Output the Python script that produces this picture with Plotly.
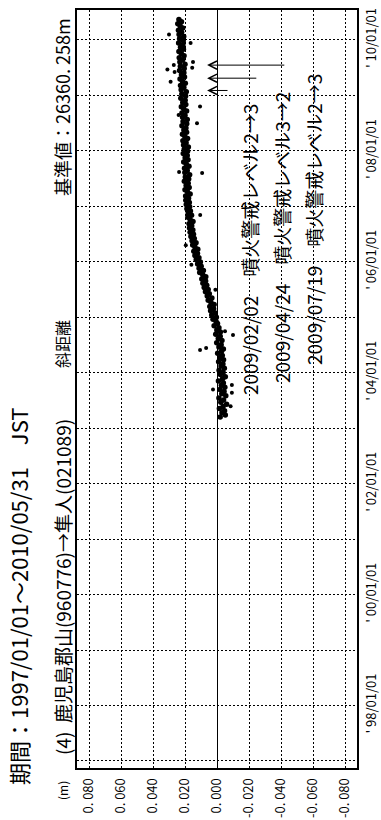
import pandas as pd
import plotly.graph_objects as go

# Slant distance change (m), sampled every 14 days from 2003-03-15
start_date = "2003-03-15"
distance_change = [
    -0.0020, -0.0052, -0.0031, -0.0047, -0.0015, -0.0038, -0.0060, -0.0024, -0.0041, -0.0012, -0.0055, -0.0030, -0.0044,
    -0.0018, -0.0049, -0.0027, -0.0040, -0.0009, -0.0035, -0.0052, -0.0021, -0.0038, -0.0013, -0.0046, -0.0025, -0.0037,
    -0.0010, -0.0041, -0.0019, -0.0033, -0.0004, -0.0028, -0.0040, -0.0012, -0.0026, 0.0002, -0.0031, -0.0008, -0.0020,
    0.0008, -0.0021, 0.0001, -0.0012, 0.0018, -0.0003, 0.0006, 0.0025, 0.0004, 0.0033, 0.0012, 0.0040, 0.0021,
    0.0045, 0.0018, 0.0038, 0.0055, 0.0032, 0.0061, 0.0048, 0.0072, 0.0055, 0.0080, 0.0064, 0.0088, 0.0071,
    0.0095, 0.0070, 0.0089, 0.0108, 0.0085, 0.0112, 0.0099, 0.0121, 0.0104, 0.0130, 0.0113, 0.0138, 0.0122,
    0.0145, 0.0120, 0.0138, 0.0152, 0.0131, 0.0156, 0.0142, 0.0163, 0.0147, 0.0168, 0.0151, 0.0172, 0.0158,
    0.0175, 0.0150, 0.0168, 0.0182, 0.0159, 0.0180, 0.0166, 0.0188, 0.0171, 0.0192, 0.0173, 0.0195, 0.0178,
    0.0196, 0.0168, 0.0185, 0.0200, 0.0174, 0.0193, 0.0180, 0.0204, 0.0177, 0.0198, 0.0171, 0.0201, 0.0186,
    0.0203, 0.0175, 0.0192, 0.0208, 0.0181, 0.0199, 0.0186, 0.0211, 0.0184, 0.0205, 0.0179, 0.0209, 0.0193,
    0.0213, 0.0184, 0.0201, 0.0216, 0.0190, 0.0207, 0.0194, 0.0219, 0.0189, 0.0212, 0.0186, 0.0215, 0.0200,
    0.0219, 0.0190, 0.0208, 0.0223, 0.0195, 0.0214, 0.0199, 0.0226, 0.0196, 0.0220, 0.0192, 0.0224, 0.0207,
    0.0228, 0.0198, 0.0216, 0.0231, 0.0203, 0.0222, 0.0207, 0.0234, 0.0205, 0.0229, 0.0200, 0.0232, 0.0215,
    0.0236, 0.0206, 0.0223, 0.0238, 0.0210, 0.0228, 0.0213, 0.0240, 0.0211, 0.0234, 0.0208, 0.0237, 0.0221,
    0.0241, 0.0214, 0.0230, 0.0245, 0.0222, 0.0238,
]
sample_dates = pd.date_range(start_date, periods=len(distance_change), freq="14D")

# Scattered individual solutions away from the main trend
outlier_dates = [
    "2003-05-26", "2003-08-22", "2003-09-12", "2003-10-12", "2004-05-30", "2004-06-12",
    "2004-09-05", "2004-10-01", "2005-07-01", "2005-12-12", "2006-04-20", "2006-11-05",
    "2007-08-08", "2007-08-15", "2008-07-01", "2008-08-25", "2008-10-20", "2009-04-01",
    "2009-06-03", "2009-06-20", "2009-07-01", "2009-07-20", "2009-08-08", "2009-12-12",
    "2010-02-05",
]
outlier_values = [
    -0.0085, -0.0093, 0.0025, -0.0093, 0.0106, 0.0068,
    -0.0100, -0.0050, 0.0010, 0.0160, 0.0195, 0.0105,
    0.0093, 0.0237, 0.0125, 0.0240, 0.0106, 0.0290,
    0.0265, 0.0310, 0.0155, 0.0270, 0.0150, 0.0165,
    0.0300,
]

# Volcanic alert level changes
event_dates = ["2009-02-02", "2009-04-24", "2009-07-19"]
event_labels = ["2009/02/02　噴火警戒レベル2→3", "2009/04/24　噴火警戒レベル3→2", "2009/07/19　噴火警戒レベル2→3"]

# Value axis ticks
value_ticks = [0.08, 0.06, 0.04, 0.02, 0.0, -0.02, -0.04, -0.06, -0.08]
value_tick_text = ["0. 080", "0. 060", "0. 040", "0. 020", "0. 000", "-0. 020", "-0. 040", "-0. 060", "-0. 080"]

title_period = "期間：1997/01/01～2010/05/31　JST"
title_unit = "(m)"
title_baseline = "(4)  鹿児島郡山(960776)→隼人(021089)"
title_kind = "斜距離"
title_reference = "基準値：26360. 258m"

FONT = "Noto Sans CJK JP"
W, H = 381, 820
L, R, T, B = 77, 24, 10, 52
PW, PH = W - L - R, H - T - B


def px(xp):
    return (xp - L) / PW


def py(yp):
    return (H - B - yp) / PH


fig = go.Figure()
fig.add_trace(go.Scatter(
    x=distance_change, y=sample_dates, mode="markers",
    marker=dict(color="black", size=5.5, line=dict(width=0)),
    hoverinfo="skip",
))
fig.add_trace(go.Scatter(
    x=outlier_values, y=pd.to_datetime(outlier_dates), mode="markers",
    marker=dict(color="black", size=4, line=dict(width=0)),
    hoverinfo="skip",
))

annotations = []


def vtext(text, xc, yc, size, xref="paper"):
    annotations.append(dict(
        text=text, xref=xref, yref="paper",
        x=px(xc) if xref == "paper" else xc, y=py(yc),
        xanchor="center", yanchor="middle", textangle=-90, showarrow=False,
        font=dict(family=FONT, size=size, color="black"),
    ))


# Headings, drawn vertically along the left edge
vtext(title_period, 18, 597, 22)
vtext(title_unit, 62, 791, 12)
vtext(title_baseline, 62, 587, 19)
vtext(title_kind, 62, 344, 16)
vtext(title_reference, 62, 107, 18)

# Event labels, stacked on the -0.02 / -0.04 / -0.06 grid columns
label_cols = [-0.02, -0.04, -0.06]
label_centers = [250, 238, 220]
for lab, xc, yc in zip(event_labels, label_cols, label_centers):
    vtext(lab, xc, yc, 19, xref="x")

# Arrows marking each event date
arrow_tails = [-0.0075, -0.0255, -0.043]
for d, tail in zip(event_dates, arrow_tails):
    annotations.append(dict(
        text="", x=0.0062, y=d, xref="x", yref="y",
        ax=tail, axref="x", ay=0, ayref="pixel",
        showarrow=True, arrowhead=5, arrowsize=1.6, arrowwidth=1, arrowcolor="black",
        standoff=0, startstandoff=0,
    ))

grid_dash = "2px,2px"
fig.update_layout(
    width=W, height=H,
    margin=dict(l=L, r=R, t=T, b=B, pad=0),
    paper_bgcolor="white", plot_bgcolor="white",
    showlegend=False,
    font=dict(family=FONT, color="black"),
    annotations=annotations,
    xaxis=dict(
        automargin=False,
        range=[0.0875, -0.0875],
        tickvals=value_ticks, ticktext=value_tick_text,
        tickangle=-90, tickfont=dict(size=13), ticklabelstandoff=3,
        ticks="", showgrid=True, gridcolor="black", gridwidth=1, griddash=grid_dash,
        zeroline=True, zerolinecolor="black", zerolinewidth=1,
        showline=True, mirror=True, linecolor="black", linewidth=2,
    ),
    yaxis=dict(
        automargin=False,
        type="date", range=["1996-11-15", "2010-07-17"],
        tick0="1998-01-01", dtick="M24", tickformat="' %y/%m/%d",
        side="right", tickangle=-90, tickfont=dict(size=13), ticklabelstandoff=1,
        ticks="", showgrid=True, gridcolor="black", gridwidth=1, griddash=grid_dash,
        minor=dict(dtick="M12", tick0="1997-01-01", showgrid=True, gridcolor="black",
                   gridwidth=1, griddash=grid_dash, ticks=""),
        zeroline=False,
        showline=True, mirror=True, linecolor="black", linewidth=2,
    ),
)

fig.write_html("out.html")
